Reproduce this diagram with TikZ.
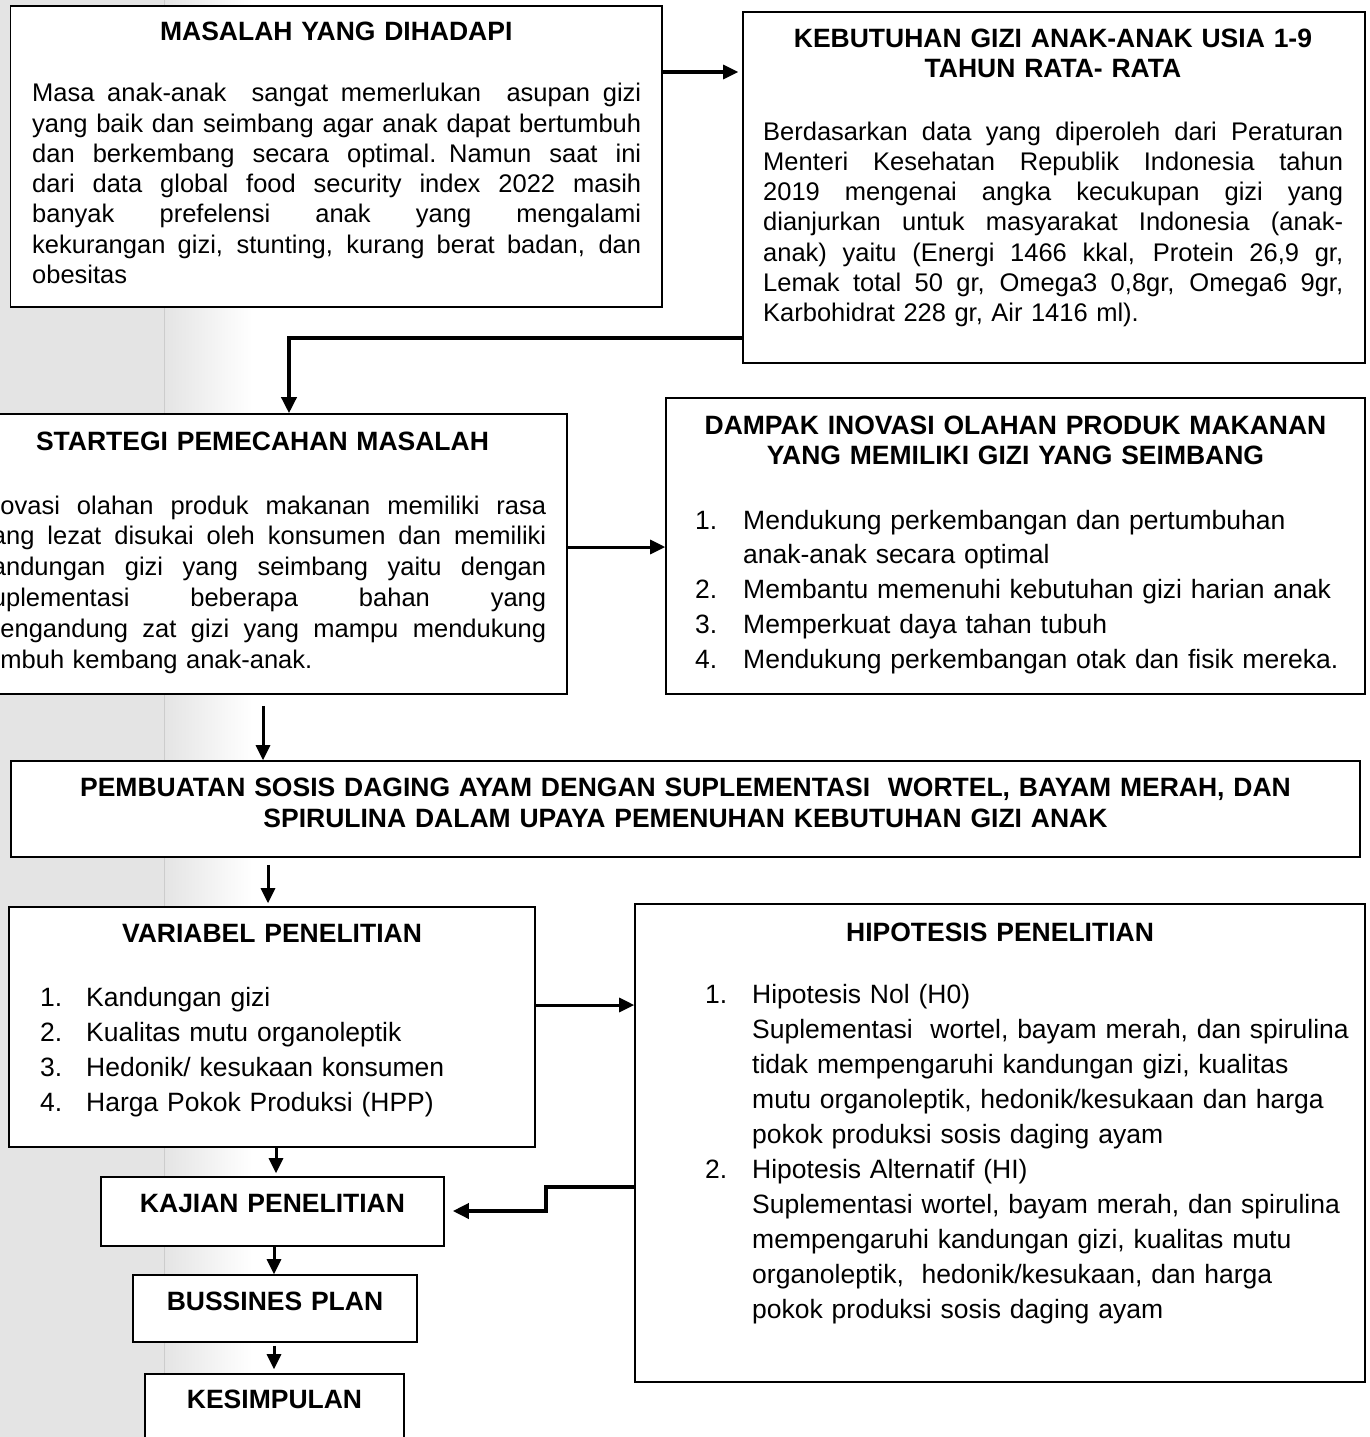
\documentclass[tikz,border=0pt]{standalone}
\usepackage{fontspec}
\setmainfont{Liberation Sans}
\usetikzlibrary{arrows.meta}
\newcommand\J[2]{\leavevmode\hbox to #1{\spaceskip=0.278em plus 1fil\relax #2}}
\newcommand\N[2]{\makebox[#1][l]{#2}}
\definecolor{bandgray}{HTML}{E4E4E4}
\tikzset{
  box/.style={draw=black, line width=1.6pt, fill=white, inner sep=0pt, rectangle},
  ttl/.style={font={\fontsize{26.5}{30}\selectfont\bfseries}, inner sep=0pt, anchor=base, align=center},
  para/.style={font={\fontsize{25.5}{30.3}\selectfont}, inner sep=0pt, anchor=base west, align=left},
  lst/.style={font={\fontsize{26.5}{35}\selectfont}, inner sep=0pt, anchor=base west, align=left},
  conn/.style={line width=3pt, -{Triangle[length=15pt,width=14pt]}},
  elbow/.style={line width=3.6pt, -{Triangle[length=16pt,width=15pt]}}
}
\begin{document}
\begin{tikzpicture}[x=1pt,y=-1pt]
\useasboundingbox (0,0) rectangle (1370,1437);
\clip (0,0) rectangle (1370,1437);
% background band
\fill[bandgray] (0,0) rectangle (164,1437);
\shade[left color=bandgray,right color=white] (164,0) rectangle (252,1437);
\draw[gray!40, line width=0.8pt] (164,0) -- (164,1437);

% boxes
\node[box, minimum width=651.5pt, minimum height=301pt] (masalah) at (336.25,156.5) {};
\node[box, minimum width=622pt, minimum height=351pt] (kebutuhan) at (1054,187.5) {};
\node[box, minimum width=609pt, minimum height=280pt] (startegi) at (262.5,554) {};
\node[box, minimum width=699pt, minimum height=296pt] (dampak) at (1015.5,546) {};
\node[box, minimum width=1349pt, minimum height=96pt] (pembuatan) at (685.5,809) {};
\node[box, minimum width=526pt, minimum height=240pt] (variabel) at (272,1027) {};
\node[box, minimum width=730pt, minimum height=478pt] (hipotesis) at (1000,1143) {};
\node[box, minimum width=343pt, minimum height=69pt] (kajian) at (272.5,1211.5) {};
\node[box, minimum width=284pt, minimum height=67pt] (bussines) at (275,1308.5) {};
\node[box, minimum width=259pt, minimum height=86pt] (kesimpulan) at (274.5,1417) {};

% MASALAH
\node[ttl, text width=600pt] (masalahTitle) at (336.25,41) {MASALAH YANG DIHADAPI};
\node[para, text width=612pt] (masalahText) at (32,101.7) {%
\J{609pt}{Masa anak-anak\ \ sangat memerlukan\ \ asupan gizi}\\
\J{609pt}{yang baik dan seimbang agar anak dapat bertumbuh}\\
\J{609pt}{dan berkembang secara optimal. Namun saat ini}\\
\J{609pt}{dari data global food security index 2022 masih}\\
\J{609pt}{banyak prefelensi anak yang mengalami}\\
\J{609pt}{kekurangan gizi, stunting, kurang berat badan, dan}\\
obesitas};

% KEBUTUHAN
\node[ttl, text width=600pt] (kebutuhanTitle) at (1053,47.5) {KEBUTUHAN GIZI ANAK-ANAK USIA 1-9\\TAHUN RATA- RATA};
\node[para, text width=585pt] (kebutuhanText) at (763,140) {%
\J{580pt}{Berdasarkan data yang diperoleh dari Peraturan}\\
\J{580pt}{Menteri Kesehatan Republik Indonesia tahun}\\
\J{580pt}{2019 mengenai angka kecukupan gizi yang}\\
\J{580pt}{dianjurkan untuk masyarakat Indonesia (anak-}\\
\J{580pt}{anak) yaitu (Energi 1466 kkal, Protein 26,9 gr,}\\
\J{580pt}{Lemak total 50 gr, Omega3 0,8gr, Omega6 9gr,}\\
Karbohidrat 228 gr, Air 1416 ml).};

% STARTEGI
\node[ttl, text width=580pt] (startegiTitle) at (262.5,450) {STARTEGI PEMECAHAN MASALAH};
\node[para, text width=570pt, font={\fontsize{25.5}{30.8}\selectfont}] (startegiText) at (-21,514) {%
\J{567pt}{Inovasi olahan produk makanan memiliki rasa}\\
\J{567pt}{yang lezat disukai oleh konsumen dan memiliki}\\
\J{567pt}{kandungan gizi yang seimbang yaitu dengan}\\
\J{567pt}{suplementasi beberapa bahan yang}\\
\J{567pt}{mengandung zat gizi yang mampu mendukung}\\
tumbuh kembang anak-anak.};

% DAMPAK
\node[ttl, text width=680pt] (dampakTitle) at (1015.5,434) {DAMPAK INOVASI OLAHAN PRODUK MAKANAN\\YANG MEMILIKI GIZI YANG SEIMBANG};
\node[lst, text width=660pt, font={\fontsize{26.5}{34.8}\selectfont}] (dampakList) at (695,529) {%
\N{48pt}{1.}Mendukung perkembangan dan pertumbuhan\\
\hspace*{48pt}anak-anak secara optimal\\
\N{48pt}{2.}Membantu memenuhi kebutuhan gizi harian anak\\
\N{48pt}{3.}Memperkuat daya tahan tubuh\\
\N{48pt}{4.}Mendukung perkembangan otak dan fisik mereka.};

% PEMBUATAN
\node[ttl, text width=1340pt, font={\fontsize{26.5}{31}\selectfont\bfseries}] (pembuatanTitle) at (685.5,796) {PEMBUATAN SOSIS DAGING AYAM DENGAN SUPLEMENTASI\ \ WORTEL, BAYAM MERAH, DAN\\SPIRULINA DALAM UPAYA PEMENUHAN KEBUTUHAN GIZI ANAK};

% VARIABEL
\node[ttl, text width=500pt] (variabelTitle) at (272,942) {VARIABEL PENELITIAN};
\node[lst, text width=480pt] (variabelList) at (40,1006) {%
\N{46pt}{1.}Kandungan gizi\\
\N{46pt}{2.}Kualitas mutu organoleptik\\
\N{46pt}{3.}Hedonik/ kesukaan konsumen\\
\N{46pt}{4.}Harga Pokok Produksi (HPP)};

% HIPOTESIS
\node[ttl, text width=700pt] (hipotesisTitle) at (1000,941) {HIPOTESIS PENELITIAN};
\node[lst, text width=650pt] (hipotesisList) at (705,1003.5) {%
\N{47pt}{1.}Hipotesis Nol (H0)\\
\hspace*{47pt}Suplementasi\ \ wortel, bayam merah, dan spirulina\\
\hspace*{47pt}tidak mempengaruhi kandungan gizi, kualitas\\
\hspace*{47pt}mutu organoleptik, hedonik/kesukaan dan harga\\
\hspace*{47pt}pokok produksi sosis daging ayam\\
\N{47pt}{2.}Hipotesis Alternatif (HI)\\
\hspace*{47pt}Suplementasi wortel, bayam merah, dan spirulina\\
\hspace*{47pt}mempengaruhi kandungan gizi, kualitas mutu\\
\hspace*{47pt}organoleptik,\ \ hedonik/kesukaan, dan harga\\
\hspace*{47pt}pokok produksi sosis daging ayam};

% small boxes
\node[ttl, text width=330pt] (kajianTitle) at (272.5,1212) {KAJIAN PENELITIAN};
\node[ttl, text width=270pt] (bussinesTitle) at (275,1310) {BUSSINES PLAN};
\node[ttl, text width=250pt] (kesimpulanTitle) at (274.5,1408) {KESIMPULAN};

% connectors
\coordinate (p1) at (700,72);
\draw[conn, shorten >=4pt] (masalah.east |- p1) -- (kebutuhan.west |- p1);
\coordinate (p2) at (289,338);
\draw[elbow] (kebutuhan.west |- p2) -| (startegi.north -| p2);
\coordinate (p3) at (600,547);
\draw[conn] (startegi.east |- p3) -- (dampak.west |- p3);
\coordinate (p4) at (263,730);
\draw[conn, shorten <=11pt] (startegi.south -| p4) -- (pembuatan.north -| p4);
\coordinate (p5) at (268,880);
\draw[conn, shorten <=7pt, shorten >=3pt] (pembuatan.south -| p5) -- (variabel.north -| p5);
\coordinate (p6) at (580,1005);
\draw[conn] (variabel.east |- p6) -- (hipotesis.west |- p6);
\coordinate (p7) at (276,1160);
\draw[conn, shorten >=3pt] (variabel.south -| p7) -- (kajian.north -| p7);
\coordinate (p8) at (600,1187);
\coordinate (p9) at (546,1211);
\draw[elbow, shorten >=8pt] (hipotesis.west |- p8) -| (p9) -- (kajian.east |- p9);
\coordinate (p10) at (274,1260);
\draw[conn] (kajian.south -| p10) -- (bussines.north -| p10);
\draw[conn, shorten <=3pt, shorten >=4pt] (bussines.south -| p10) -- (kesimpulan.north -| p10);
\end{tikzpicture}
\end{document}
